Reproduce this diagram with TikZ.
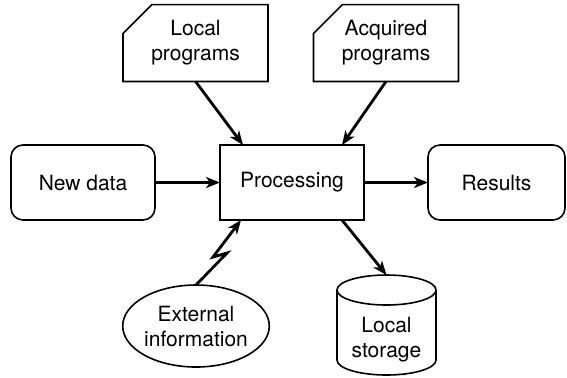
\documentclass[tikz,border=0pt]{standalone}
\usepackage{fontspec}
\setmainfont{TeX Gyre Heros}
\usetikzlibrary{arrows.meta,shapes.geometric,shapes.misc}

\begin{document}
\begin{tikzpicture}[x=0.5pt, y=-0.5pt,
  texto/.style={inner sep=0pt, outer sep=0pt, align=center,
                font=\fontsize{10.5}{12.5}\selectfont},
  bloco/.style={texto, draw, line width=0.8pt, minimum width=72pt,
                minimum height=37.5pt},
  arred/.style={bloco, rounded corners=6pt},
  cartao/.style={texto, draw, line width=0.8pt, chamfered rectangle,
                 chamfered rectangle corners=north west,
                 chamfered rectangle xsep=6.5pt, chamfered rectangle ysep=8pt,
                 minimum width=72.5pt, minimum height=37pt},
  contorno/.style={line width=0.8pt},
  seta/.style={-{Stealth[length=7pt, width=5.5pt, inset=2pt]}, line width=1.4pt}
]
\useasboundingbox (0,0) rectangle (567,377);
\node[arred] (newdata) at (83,182.5) {New data};
\node[bloco] (proc) at (292,182.5) {Processing};
\node[arred, minimum width=68.5pt] (results) at (496.5,182.5) {Results};
\node[cartao] (localprog) at (195.5,43) {Local\\programs};
\node[cartao] (acqprog) at (386,43) {Acquired\\programs};
\node[texto, draw, line width=0.8pt, ellipse, minimum width=71pt,
      minimum height=41pt] (ext) at (196,326) {External\\information};
\node[texto, minimum width=49.5pt, minimum height=35pt] (storage) at (386.5,340)
  {Local\\storage};
% cilindro
\draw[contorno] ([yshift=7.5pt]storage.north) ellipse[x radius=24.75pt, y radius=7.5pt];
\draw[contorno] ([yshift=7.5pt]storage.north west) -- ([yshift=7.5pt]storage.south west)
  arc[start angle=180, end angle=360, x radius=24.75pt, y radius=7.5pt]
  -- ([yshift=7.5pt]storage.north east);
\draw[seta] (newdata) -- (proc);
\draw[seta] (proc) -- (results);
\draw[seta] (localprog.south) -- ([xshift=-24.5pt]proc.north);
\draw[seta] (acqprog.south) -- ([xshift=25pt]proc.north);
\draw[seta] ([xshift=25pt]proc.south) -- ([yshift=15pt]storage.north);
\draw[seta] (ext.north) -- ++(31,-32) -- ++(-14,4) -- ([xshift=-25.5pt]proc.south);
\end{tikzpicture}
\end{document}
